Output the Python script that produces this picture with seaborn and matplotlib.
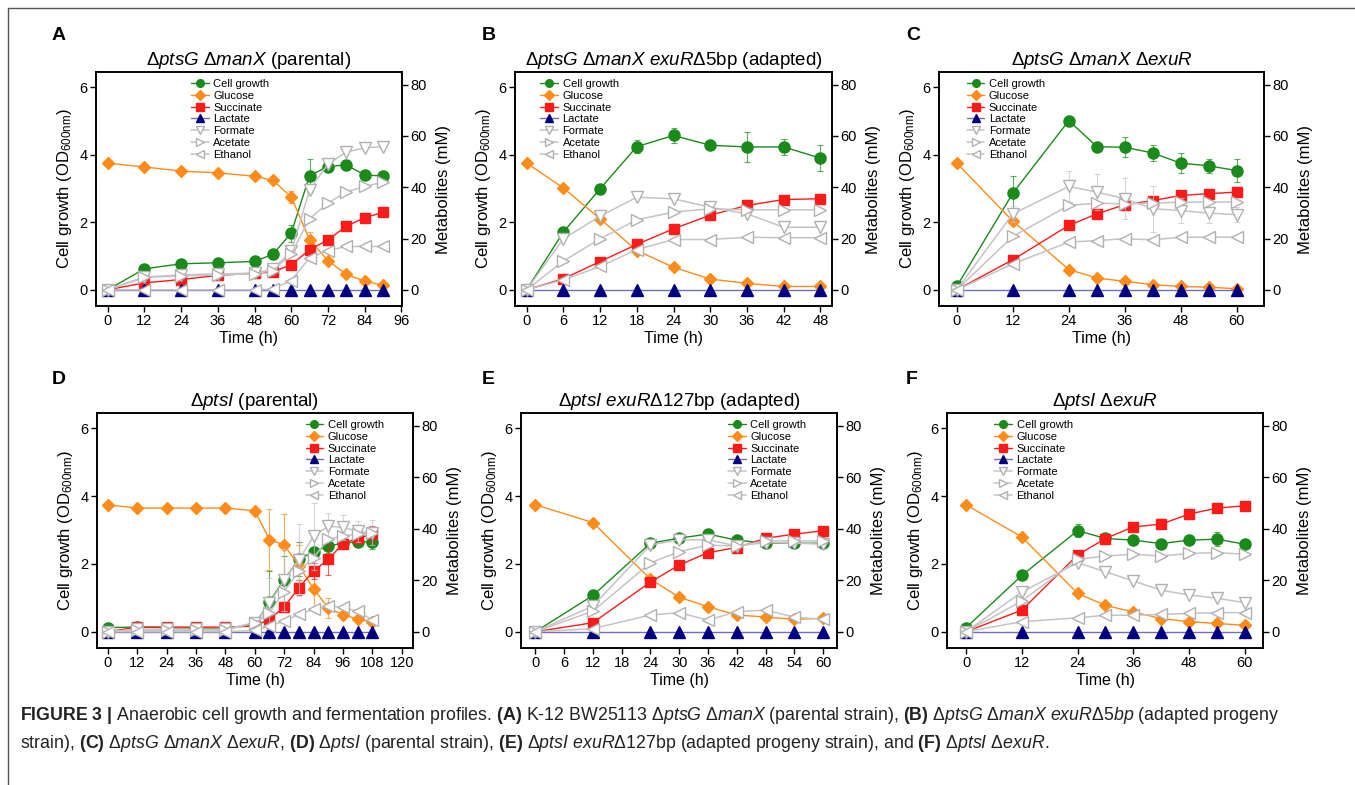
import matplotlib
matplotlib.use('Agg')
import matplotlib.pyplot as plt
import seaborn as sns
from matplotlib.lines import Line2D

# ---- data, OD600 for growth, mM for metabolites ----
t_a = [0, 12, 24, 36, 48, 54, 60, 66, 72, 78, 84, 90]
growth_a = [0.0, 0.62, 0.77, 0.80, 0.84, 1.05, 1.68, 3.38, 3.65, 3.70, 3.40, 3.37]
growth_err_a = [0.05, 0.05, 0.04, 0.04, 0.04, 0.06, 0.25, 0.48, 0.10, 0.12, 0.06, 0.06]
glucose_a = [49.4, 47.9, 46.3, 45.6, 44.3, 42.7, 36.2, 19.5, 11.4, 6.0, 3.4, 1.7]
glucose_err_a = [0, 0, 0, 0, 0, 0, 2.5, 3.0, 0.8, 0.5, 0.3, 0.3]
succinate_a = [0.0, 2.7, 4.0, 5.6, 6.5, 6.9, 9.8, 15.6, 19.5, 24.8, 28.1, 30.2]
lactate_a = [0, 0, 0, 0, 0, 0, 0, 0, 0, 0, 0, 0]
formate_a = [0.0, 5.0, 5.8, 6.2, 6.5, 8.0, 15.0, 39.0, 49.0, 53.7, 55.4, 55.8]
acetate_a = [0.0, 4.8, 5.4, 5.8, 6.3, 7.5, 14.0, 27.7, 33.8, 38.2, 40.3, 42.0]
ethanol_a = [0.0, 0.0, 0.0, 0.0, 0.0, 0.3, 3.6, 12.5, 15.3, 16.9, 16.9, 16.9]

t_b = [0, 6, 12, 18, 24, 30, 36, 42, 48]
growth_b = [0.0, 1.71, 2.99, 4.24, 4.57, 4.28, 4.23, 4.23, 3.90]
growth_err_b = [0.05, 0.05, 0.05, 0.20, 0.22, 0.05, 0.45, 0.25, 0.38]
glucose_b = [49.4, 39.7, 27.7, 15.3, 8.8, 4.2, 2.5, 1.3, 1.3]
succinate_b = [0.0, 4.3, 11.0, 17.7, 23.8, 29.1, 32.9, 35.2, 35.5]
lactate_b = [0, 0, 0, 0, 0, 0, 0, 0, 0]
formate_b = [0.0, 19.9, 28.7, 36.1, 35.5, 32.2, 29.6, 24.4, 24.4]
acetate_b = [0.0, 11.2, 19.9, 27.3, 30.3, 31.6, 31.2, 31.2, 31.2]
ethanol_b = [0.0, 3.9, 9.1, 15.7, 19.6, 19.6, 20.5, 20.3, 20.3]

t_c = [0, 12, 24, 30, 36, 42, 48, 54, 60]
growth_c = [0.10, 2.86, 5.01, 4.24, 4.22, 4.05, 3.75, 3.67, 3.53]
growth_err_c = [0.05, 0.50, 0.05, 0.06, 0.30, 0.25, 0.30, 0.20, 0.35]
glucose_c = [49.4, 26.8, 7.9, 4.6, 3.3, 2.0, 1.3, 1.0, 0.4]
succinate_c = [0.0, 11.7, 25.1, 29.6, 33.2, 34.8, 36.8, 37.5, 38.1]
lactate_c = [0, 0, 0, 0, 0, 0, 0, 0, 0]
formate_c = [0.0, 29.6, 40.3, 38.1, 35.5, 31.6, 30.9, 29.9, 29.3]
formate_err_c = [0, 3, 6, 7, 8, 9, 5, 4, 3]
acetate_c = [0.0, 20.8, 32.9, 33.8, 33.5, 33.8, 34.2, 34.2, 34.2]
ethanol_c = [0.0, 10.1, 18.6, 19.2, 19.9, 19.5, 20.5, 20.5, 20.5]

t_d = [0, 12, 24, 36, 48, 60, 66, 72, 78, 84, 90, 96, 102, 108]
growth_d = [0.12, 0.14, 0.12, 0.10, 0.10, 0.20, 0.89, 1.53, 2.14, 2.35, 2.53, 2.61, 2.65, 2.65]
growth_err_d = [0.02, 0.02, 0.02, 0.02, 0.02, 0.05, 0.90, 0.70, 0.50, 0.40, 0.20, 0.15, 0.15, 0.20]
glucose_d = [49.3, 48.0, 48.0, 48.0, 48.0, 47.0, 35.8, 33.7, 25.6, 16.7, 9.2, 6.6, 4.9, 3.7]
glucose_err_d = [0, 0, 0, 0, 0, 0.5, 12, 12, 8, 8, 4, 1.5, 1, 1]
succinate_d = [0.0, 1.8, 1.8, 1.8, 1.8, 2.2, 4.8, 9.6, 17.1, 23.6, 28.1, 34.2, 36.3, 37.9]
succinate_err_d = [0, 0, 0, 0, 0, 0.5, 1, 2, 3, 3, 6, 2, 2, 3]
lactate_d = [0, 0, 0, 0, 0, 0, 0, 0, 0, 0, 0, 0, 0, 0]
formate_d = [0.0, 1.0, 1.0, 1.0, 1.0, 3.5, 11.0, 20.0, 28.0, 37.0, 41.0, 40.5, 39.0, 38.5]
formate_err_d = [0, 0, 0, 0, 0, 1, 10, 12, 14, 13, 5, 5, 4, 5]
acetate_d = [0.0, 0.5, 0.5, 0.5, 0.5, 3.5, 7.4, 15.6, 23.6, 28.8, 35.9, 37.2, 37.9, 38.5]
ethanol_d = [0.0, 0.0, 0.0, 0.0, 0.0, 0.5, 2.2, 4.1, 6.7, 8.7, 9.9, 9.5, 7.9, 4.6]

t_e = [0, 12, 24, 30, 36, 42, 48, 54, 60]
growth_e = [0.0, 1.07, 2.61, 2.76, 2.88, 2.70, 2.61, 2.61, 2.61]
glucose_e = [49.3, 42.4, 20.4, 13.4, 9.7, 6.5, 5.7, 4.8, 5.2]
succinate_e = [0.0, 3.5, 19.3, 25.9, 30.7, 32.7, 36.3, 37.9, 39.2]
lactate_e = [0, 0, 0, 0, 0, 0, 0, 0, 0]
formate_e = [0.0, 10.0, 33.7, 35.7, 35.7, 33.3, 34.6, 34.4, 34.0]
acetate_e = [0.0, 8.0, 26.8, 31.1, 33.6, 33.3, 35.3, 35.3, 35.3]
ethanol_e = [0.0, 1.2, 6.5, 7.4, 4.5, 7.8, 8.4, 5.7, 4.8]

t_f = [0, 12, 24, 30, 36, 42, 48, 54, 60]
growth_f = [0.12, 1.66, 2.98, 2.75, 2.70, 2.60, 2.70, 2.73, 2.58]
growth_err_f = [0.03, 0.05, 0.20, 0.05, 0.05, 0.05, 0.12, 0.20, 0.05]
glucose_f = [49.3, 36.8, 14.9, 10.2, 7.7, 5.1, 3.9, 3.2, 2.5]
succinate_f = [0.0, 8.4, 29.8, 36.2, 40.7, 41.8, 45.7, 48.0, 48.9]
succinate_err_f = [0, 0, 0, 0, 0, 2.0, 0, 0, 0]
lactate_f = [0, 0, 0, 0, 0, 0, 0, 0, 0]
formate_f = [0.0, 15.4, 26.8, 23.3, 19.7, 16.1, 14.3, 13.0, 11.3]
acetate_f = [0.0, 11.9, 28.1, 29.4, 30.1, 29.4, 30.4, 30.7, 30.1]
ethanol_f = [0.0, 3.9, 5.4, 6.4, 6.4, 6.7, 7.1, 7.4, 7.4]

series_names = ['Cell growth', 'Glucose', 'Succinate', 'Lactate', 'Formate', 'Acetate', 'Ethanol']

# ---- style ----
sns.set_style('ticks')
plt.rcParams['font.family'] = ['Liberation Sans', 'DejaVu Sans']
plt.rcParams['mathtext.fontset'] = 'custom'
plt.rcParams['mathtext.rm'] = 'Liberation Sans'
plt.rcParams['mathtext.it'] = 'Liberation Sans:italic'
plt.rcParams['mathtext.bf'] = 'Liberation Sans:bold'
for key in ['axes.edgecolor', 'xtick.color', 'ytick.color', 'text.color', 'axes.labelcolor']:
    plt.rcParams[key] = 'black'

GREY = '#c4c4c4'
GREY_EDGE = '#b0b0b0'
# color, marker, markersize, facecolor, edgecolor, linecolor, linewidth
styles = {
    'Cell growth': ('#1a8a1a', 'o', 8, '#1a8a1a', '#1a8a1a', '#1a8a1a', 1.0),
    'Glucose': ('#ff8c1a', 'D', 6.5, '#ff8c1a', '#ff8c1a', '#ff8c1a', 1.0),
    'Succinate': ('#ff1a1a', 's', 7, '#ff1a1a', '#ff1a1a', '#ff1a1a', 1.0),
    'Lactate': ('#000080', '^', 8, '#000080', '#000080', '#7070b8', 1.0),
    'Formate': (GREY, 'v', 8, 'white', GREY_EDGE, GREY, 1.1),
    'Acetate': (GREY, '>', 8, 'white', GREY_EDGE, GREY, 1.1),
    'Ethanol': (GREY, '<', 8, 'white', GREY_EDGE, GREY, 1.1),
}

W, H = 1355, 785
K = 80 / 6.075   # mM per OD unit on the shared vertical scale

panels = [
    dict(letter='A', title=r'$\Delta\mathit{ptsG}$ $\Delta\mathit{manX}$ (parental)',
         t=t_a, data=[growth_a, glucose_a, succinate_a, lactate_a, formate_a, acetate_a, ethanol_a],
         err={'Cell growth': growth_err_a, 'Glucose': glucose_err_a},
         xticks=list(range(0, 97, 12)), xlim=(-3.8, 96.2), box=(96, 72, 402, 306),
         leg=(0.31, 0.97), letter_xy=(52, 35)),
    dict(letter='B', title=r'$\Delta\mathit{ptsG}$ $\Delta\mathit{manX}$ $\mathit{exuR}\Delta$5bp (adapted)',
         t=t_b, data=[growth_b, glucose_b, succinate_b, lactate_b, formate_b, acetate_b, ethanol_b],
         err={'Cell growth': growth_err_b},
         xticks=list(range(0, 49, 6)), xlim=(-1.9, 49.9), box=(515, 72, 832, 306),
         leg=(0.08, 0.97), letter_xy=(482, 35)),
    dict(letter='C', title=r'$\Delta\mathit{ptsG}$ $\Delta\mathit{manX}$ $\Delta\mathit{exuR}$',
         t=t_c, data=[growth_c, glucose_c, succinate_c, lactate_c, formate_c, acetate_c, ethanol_c],
         err={'Cell growth': growth_err_c, 'Formate': formate_err_c},
         xticks=list(range(0, 61, 12)), xlim=(-3.8, 65.8), box=(939, 72, 1264, 306),
         leg=(0.085, 0.97), letter_xy=(906, 35)),
    dict(letter='D', title=r'$\Delta\mathit{ptsI}$ (parental)',
         t=t_d, data=[growth_d, glucose_d, succinate_d, lactate_d, formate_d, acetate_d, ethanol_d],
         err={'Cell growth': growth_err_d, 'Glucose': glucose_err_d,
              'Succinate': succinate_err_d, 'Formate': formate_err_d},
         xticks=list(range(0, 121, 12)), xlim=(-4.4, 124.6), box=(97, 413, 413, 648),
         leg=(0.66, 0.97), letter_xy=(52, 380)),
    dict(letter='E', title=r'$\Delta\mathit{ptsI}$ $\mathit{exuR}\Delta$127bp (adapted)',
         t=t_e, data=[growth_e, glucose_e, succinate_e, lactate_e, formate_e, acetate_e, ethanol_e],
         err={},
         xticks=list(range(0, 61, 6)), xlim=(-3.0, 62.9), box=(521, 413, 837, 648),
         leg=(0.655, 0.97), letter_xy=(482, 380)),
    dict(letter='F', title=r'$\Delta\mathit{ptsI}$ $\Delta\mathit{exuR}$',
         t=t_f, data=[growth_f, glucose_f, succinate_f, lactate_f, formate_f, acetate_f, ethanol_f],
         err={'Cell growth': growth_err_f, 'Succinate': succinate_err_f},
         xticks=list(range(0, 61, 12)), xlim=(-4.1, 63.9), box=(947, 413, 1263, 648),
         leg=(0.15, 0.97), letter_xy=(906, 380)),
]

fig = plt.figure(figsize=(W / 100, H / 100), dpi=100)

for p in panels:
    l, tp, r, b = p['box']
    ax = fig.add_axes([l / W, 1 - b / H, (r - l) / W, (b - tp) / H])
    ax2 = ax.twinx()
    ax.set_ylim(-0.48, 6.45)
    ax2.set_ylim(-0.48 * K, 6.45 * K)

    for name, vals in zip(series_names, p['data']):
        c, m, ms, mfc, mec, lc, lw = styles[name]
        target = ax if name == 'Cell growth' else ax2
        e = p['err'].get(name)
        if e is not None:
            target.errorbar(p['t'], vals, yerr=e, fmt='none', ecolor=c, elinewidth=0.8,
                            capsize=2.5, capthick=0.8, alpha=0.7)
        sns.lineplot(x=p['t'], y=vals, ax=target, color=lc, linewidth=lw, marker=m,
                     markersize=ms, markerfacecolor=mfc, markeredgecolor=mec,
                     markeredgewidth=1.0, sort=False, legend=False)

    ax.set_xlim(*p['xlim'])
    ax.set_xticks(p['xticks'])
    ax.set_yticks([0, 2, 4, 6])
    ax2.set_yticks([0, 20, 40, 60, 80])
    ax.set_xlabel('Time (h)', fontsize=11.5, labelpad=2)
    ax.set_ylabel(r'Cell growth (OD$_{600\mathrm{nm}}$)', fontsize=12, labelpad=4)
    ax2.set_ylabel('Metabolites (mM)', fontsize=12, labelpad=7)
    ax.set_title(p['title'], fontsize=13.5, pad=5)
    for a in (ax, ax2):
        a.tick_params(direction='out', length=4, width=1, labelsize=10.5, pad=2)
        for s in a.spines.values():
            s.set_visible(True)
            s.set_linewidth(1.2)
            s.set_color('black')

    handles = []
    for name in series_names:
        c, m, ms, mfc, mec, lc, lw = styles[name]
        handles.append(Line2D([], [], color=lc, lw=lw, marker=m, markersize=5.5,
                              markerfacecolor=mfc, markeredgecolor=mec))
    ax2.legend(handles, series_names, loc='upper left', bbox_to_anchor=p['leg'],
               frameon=False, fontsize=8, handlelength=1.6, handletextpad=0.4,
               labelspacing=0.16, borderpad=0, borderaxespad=0)

    fig.text(p['letter_xy'][0] / W, 1 - p['letter_xy'][1] / H, p['letter'],
             fontsize=14, fontweight='bold', ha='left', va='center')

# figure frame lines (top and left)
fig.add_artist(Line2D([8 / W, 1], [1 - 8 / H, 1 - 8 / H], transform=fig.transFigure,
                      color='#555555', lw=1))
fig.add_artist(Line2D([8 / W, 8 / W], [0, 1 - 8 / H], transform=fig.transFigure,
                      color='#555555', lw=1))

caption1 = (r'$\mathbf{FIGURE\ 3\ |}$ Anaerobic cell growth and fermentation profiles. '
            r'$\mathbf{(A)}$ K-12 BW25113 $\Delta\mathit{ptsG}$ $\Delta\mathit{manX}$ (parental strain), '
            r'$\mathbf{(B)}$ $\Delta\mathit{ptsG}$ $\Delta\mathit{manX}$ $\mathit{exuR}\Delta\mathit{5bp}$ '
            r'(adapted progeny')
caption2 = (r'strain), $\mathbf{(C)}$ $\Delta\mathit{ptsG}$ $\Delta\mathit{manX}$ $\Delta\mathit{exuR}$, '
            r'$\mathbf{(D)}$ $\Delta\mathit{ptsI}$ (parental strain), '
            r'$\mathbf{(E)}$ $\Delta\mathit{ptsI}$ $\mathit{exuR}\Delta$127bp (adapted progeny strain), '
            r'and $\mathbf{(F)}$ $\Delta\mathit{ptsI}$ $\Delta\mathit{exuR}$.')
fig.text(20 / W, 1 - 716 / H, caption1, fontsize=12.8, ha='left', va='center', color='#222222')
fig.text(20 / W, 1 - 744 / H, caption2, fontsize=12.8, ha='left', va='center', color='#222222')

fig.savefig('out.png', dpi=100)
